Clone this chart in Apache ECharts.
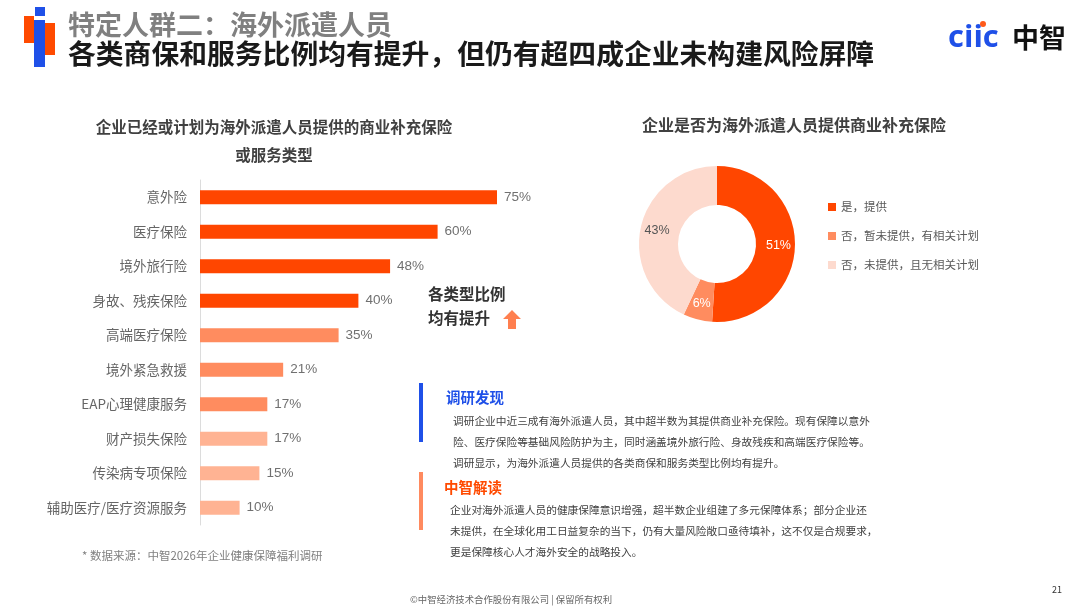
<!DOCTYPE html>
<html>
<head>
<meta charset="utf-8">
<script src="https://cdn.jsdelivr.net/npm/echarts@6/dist/echarts.min.js"></script>
<style>
  html, body { margin: 0; padding: 0; background: #fff; }
  #main { width: 1080px; height: 612px; }
</style>
</head>
<body>
<div id="main"></div>
<script>
// 数据
const categories = ['意外险', '医疗保险', '境外旅行险', '身故、残疾保险', '高端医疗保险',
  '境外紧急救援', 'EAP心理健康服务', '财产损失保险', '传染病专项保险', '辅助医疗/医疗资源服务'];
const values = [75, 60, 48, 40, 35, 21, 17, 17, 15, 10];

const pieNames = ['是，提供', '否，暂未提供，有相关计划', '否，未提供，且无相关计划'];
const pieValues = [51, 6, 43];

const FONT = '"Noto Sans CJK SC", "Noto Sans", sans-serif';
const NUMFONT = '"Liberation Sans", sans-serif';
const RED = '#FF4600';
const MID = '#FF8C5F';
const LIGHT = '#FFB393';
const PALE = '#FDDACE';
const BLUE = '#1F50E8';

const findings = [
  '调研企业中近三成有海外派遣人员，其中超半数为其提供商业补充保险。现有保障以意外',
  '险、医疗保险等基础风险防护为主，同时涵盖境外旅行险、身故残疾和高端医疗保险等。',
  '调研显示，为海外派遣人员提供的各类商保和服务类型比例均有提升。'
];
const insight = [
  '企业对海外派遣人员的健康保障意识增强，超半数企业组建了多元保障体系；部分企业还',
  '未提供，在全球化用工日益复杂的当下，仍有大量风险敞口亟待填补，这不仅是合规要求，',
  '更是保障核心人才海外安全的战略投入。'
];

let myChart = echarts.init(document.getElementById('main'));

const txt = (x, y, text, size, color, weight, extra) => ({
  type: 'text', x, y,
  style: Object.assign({ text, fontSize: size, fill: color, fontWeight: weight || 'normal', fontFamily: FONT }, extra || {})
});
const box = (x, y, w, h, fill) => ({ type: 'rect', shape: { x, y, width: w, height: h }, style: { fill } });

myChart.setOption({
  animation: false,
  textStyle: { fontFamily: FONT },
  title: [
    {
      text: '企业已经或计划为海外派遣人员提供的商业补充保险\n或服务类型',
      left: 269, top: 108, textAlign: 'center',
      textStyle: { fontSize: 15.5, fontWeight: 'bold', color: '#404040', lineHeight: 28, fontFamily: FONT }
    },
    {
      text: '企业是否为海外派遣人员提供商业补充保险',
      left: 789, top: 112, textAlign: 'center',
      textStyle: { fontSize: 16, fontWeight: 'bold', color: '#404040', fontFamily: FONT }
    }
  ],
  grid: { left: 200, top: 180, width: 396, height: 345 },
  xAxis: { type: 'value', min: 0, max: 100, show: false },
  yAxis: {
    type: 'category', data: categories, inverse: true,
    axisLine: { show: true, lineStyle: { color: '#dcdcdc' } },
    axisTick: { show: false },
    axisLabel: { color: '#666', fontSize: 13.5, margin: 13, fontFamily: FONT }
  },
  legend: {
    orient: 'vertical', left: 823, top: 195,
    itemWidth: 8, itemHeight: 8, itemGap: 15, icon: 'rect',
    textStyle: { fontSize: 11.5, color: '#595959', lineHeight: 14, fontFamily: FONT },
    data: pieNames
  },
  series: [
    {
      type: 'bar', data: values, barWidth: 14,
      itemStyle: {
        color: p => p.dataIndex < 4 ? RED : (p.dataIndex < 7 ? MID : LIGHT)
      },
      label: {
        show: true, position: 'right', distance: 7, formatter: '{c}%',
        color: '#707070', fontSize: 13.5, fontFamily: NUMFONT
      }
    },
    {
      type: 'pie', center: [717, 244], radius: [39, 78], startAngle: 90,
      data: pieNames.map((n, i) => ({
        name: n, value: pieValues[i],
        label: { color: i === 2 ? '#555' : '#fff' }
      })),
      color: [RED, MID, PALE],
      label: {
        show: true, position: 'inside', formatter: '{c}%', fontSize: 12.5,
        fontFamily: NUMFONT
      },
      labelLine: { show: false },
      emphasis: { disabled: true }
    }
  ],
  graphic: [
    // 左上角标志
    box(24, 16, 10, 27, '#FF4A00'),
    box(45, 23, 10, 32, '#FF4A00'),
    box(35, 7, 10, 9, BLUE),
    box(34, 20, 11, 47, BLUE),
    txt(68, 11, '特定人群二：海外派遣人员', 27, '#808080', 'bold'),
    txt(68, 40, '各类商保和服务比例均有提升，但仍有超四成企业未构建风险屏障', 27.8, '#1a1a1a', 'bold'),
    // 右上角 logo
    txt(948, 23, 'ciic', 31, BLUE, 'bold', { fontFamily: '"Open Sans", sans-serif' }),
    { type: 'circle', shape: { cx: 983, cy: 24, r: 3 }, style: { fill: '#FF5A1A' } },
    txt(1012, 24, '中智', 27, '#111', 'bold'),
    // 注释
    txt(428, 286, '各类型比例', 15.5, '#333', 'bold'),
    txt(428, 310, '均有提升', 15.5, '#333', 'bold'),
    {
      type: 'polygon',
      shape: { points: [[512, 310], [521, 319], [516, 319], [516, 329], [508, 329], [508, 319], [503, 319]] },
      style: { fill: '#FF7F4F' }
    },
    // 调研发现
    box(419, 383, 4, 59, BLUE),
    txt(446, 390, '调研发现', 14.5, BLUE, 'bold'),
    txt(453, 410, findings.join('\n'), 10.7, '#404040', 'normal', { lineHeight: 21 }),
    // 中智解读
    box(419, 472, 4, 58, '#FF8A5F'),
    txt(444, 480, '中智解读', 14.5, '#FF4A00', 'bold'),
    txt(450, 499, insight.join('\n'), 10.7, '#404040', 'normal', { lineHeight: 21 }),
    // 脚注
    txt(82, 550, '* 数据来源：中智2026年企业健康保障福利调研', 11.5, '#808080'),
    txt(511, 595, '©中智经济技术合作股份有限公司 | 保留所有权利', 9.4, '#666', 'normal', { align: 'center' }),
    txt(1052, 585, '21', 9, '#333')
  ]
});

window.onresize = function () {
  myChart.resize();
};
</script>
</body>
</html>
